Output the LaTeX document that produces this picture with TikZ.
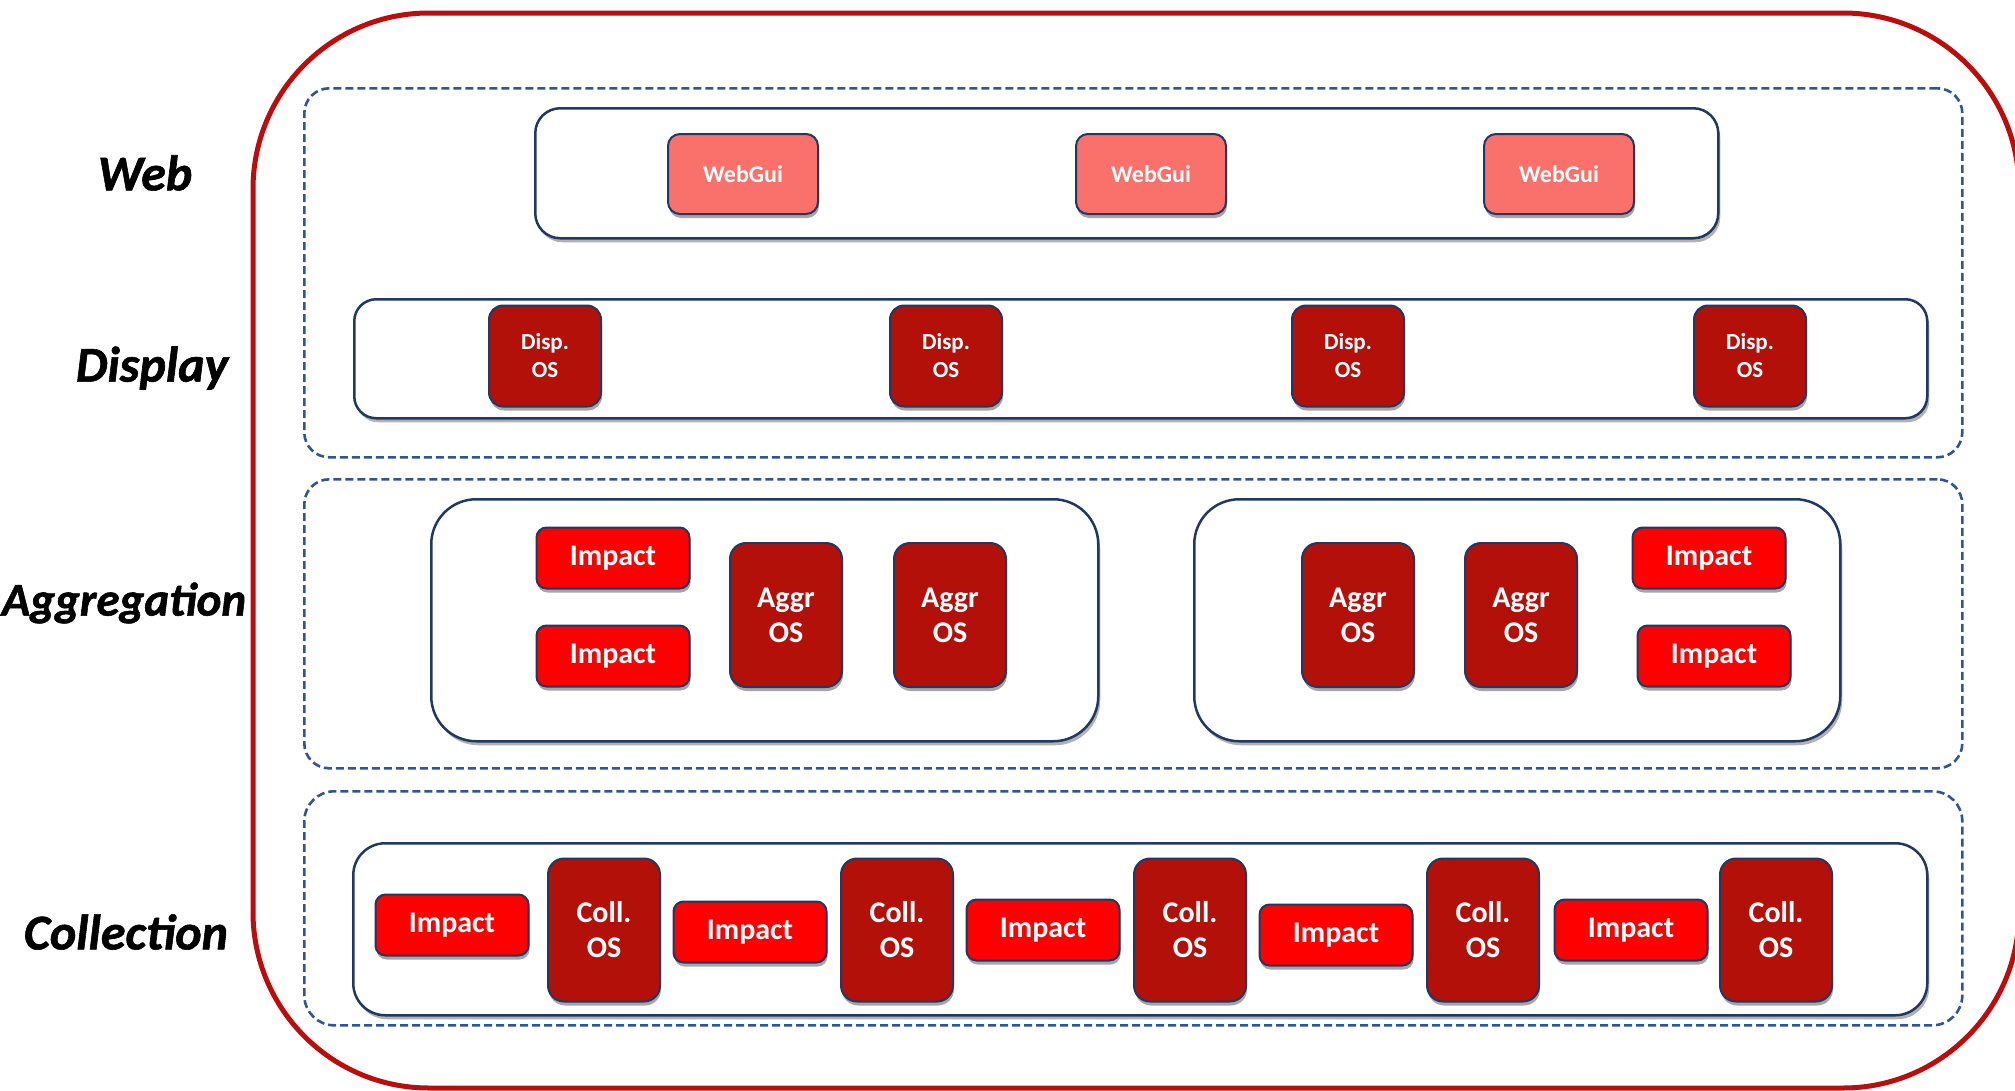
\documentclass[tikz,border=0pt]{standalone}
\usepackage{fontspec}
\setmainfont{Carlito}
\newfontfamily\lblfont[BoldItalicFeatures={FakeBold=1.2}]{Carlito}
\usetikzlibrary{shadows}
\definecolor{redbox}{RGB}{188,12,12}
\definecolor{dashblue}{RGB}{47,85,151}
\definecolor{navy}{RGB}{31,56,100}
\definecolor{salmon}{RGB}{250,112,106}
\definecolor{darkred}{RGB}{180,16,10}
\definecolor{brightred}{RGB}{255,0,0}
\tikzset{
  layerbox/.style={draw=dashblue, dash pattern=on 8pt off 4pt, line width=2.6pt, rounded corners=25pt, inner sep=0pt, anchor=north west},
  groupbox/.style={draw=navy, line width=2.5pt, fill=white, inner sep=0pt, anchor=north west,
    drop shadow={shadow xshift=2pt, shadow yshift=-4pt, fill=gray!60, opacity=1}},
  blockbase/.style={draw=navy, line width=2pt, text=white, inner sep=0pt, align=center,
    drop shadow={shadow xshift=1pt, shadow yshift=-4pt, fill=gray!70, opacity=1}},
  webgui/.style={blockbase, fill=salmon, minimum width=150pt, minimum height=80pt, rounded corners=12pt, font=\fontsize{24}{28}\selectfont\bfseries},
  disp/.style={blockbase, fill=darkred, minimum width=112pt, minimum height=101pt, rounded corners=14pt, font=\fontsize{23}{28}\selectfont\bfseries},
  impact/.style={blockbase, fill=brightred, minimum width=153pt, minimum height=61pt, rounded corners=10pt, font=\fontsize{30}{35}\selectfont\bfseries},
  osbox/.style={blockbase, fill=darkred, minimum width=112pt, minimum height=144pt, rounded corners=16pt, font=\fontsize{30}{35}\selectfont\bfseries},
  layerlabel/.style={font=\lblfont\fontsize{50}{56}\selectfont\bfseries\itshape, text=black, inner sep=0pt}
}
\begin{document}
\begin{tikzpicture}[x=1pt, y=-1pt]
\useasboundingbox (0,0) rectangle (2015,1090);
\clip (0,0) rectangle (2015,1090);
% outer red frame
\draw[redbox, line width=5pt, rounded corners=176pt] (253,13) rectangle (2019,1088);
% dashed layer boxes
\node[layerbox, minimum width=1658pt, minimum height=369pt] (lay1) at (303,87) {};
\node[layerbox, minimum width=1658pt, minimum height=289pt] (lay2) at (303,478) {};
\node[layerbox, rounded corners=30pt, minimum width=1658pt, minimum height=234pt] (lay3) at (303,790) {};
% group boxes
\node[groupbox, rounded corners=25pt, minimum width=1183pt, minimum height=130pt] (gweb) at (534,107) {};
\node[groupbox, rounded corners=22pt, minimum width=1573pt, minimum height=119pt] (gdisp) at (353,298) {};
\node[groupbox, rounded corners=45pt, minimum width=667pt, minimum height=242pt] (gaggl) at (430,498) {};
\node[groupbox, rounded corners=45pt, minimum width=646pt, minimum height=242pt] (gaggr) at (1193,498) {};
\node[groupbox, rounded corners=32pt, minimum width=1574pt, minimum height=172pt] (gcoll) at (352,842) {};
% labels
\node[layerlabel] (lweb) at (145,173) {Web};
\node[layerlabel] (ldisp) at (152,368) {Display};
\node[layerlabel, font=\lblfont\fontsize{47}{53}\selectfont\bfseries\itshape] (lagg) at (124,603) {Aggregation};
\node[layerlabel] (lcoll) at (126,932) {Collection};
% web
\node[webgui] (w1) at (743,174) {WebGui};
\node[webgui] (w2) at (1151,174) {WebGui};
\node[webgui] (w3) at (1559,174) {WebGui};
% display
\node[disp] (d1) at (545,356) {Disp.\\OS};
\node[disp] (d2) at (946,356) {Disp.\\OS};
\node[disp] (d3) at (1348,356) {Disp.\\OS};
\node[disp] (d4) at (1750,356) {Disp.\\OS};
% aggregation left
\node[impact] (ai1) at (613,558) {Impact};
\node[impact] (ai2) at (613,656) {Impact};
\node[osbox] (ao1) at (786,615) {Aggr\\OS};
\node[osbox] (ao2) at (950,615) {Aggr\\OS};
% aggregation right
\node[osbox] (ao3) at (1358,615) {Aggr\\OS};
\node[osbox] (ao4) at (1521,615) {Aggr\\OS};
\node[impact] (ai3) at (1709,558) {Impact};
\node[impact] (ai4) at (1714,656) {Impact};
% collection
\node[impact] (ci1) at (452,925) {Impact};
\node[osbox, minimum height=143pt] (co1) at (604,930) {Coll.\\OS};
\node[impact] (ci2) at (750,932) {Impact};
\node[osbox, minimum height=143pt] (co2) at (897,930) {Coll.\\OS};
\node[impact] (ci3) at (1043,930) {Impact};
\node[osbox, minimum height=143pt] (co3) at (1190,930) {Coll.\\OS};
\node[impact] (ci4) at (1336,935) {Impact};
\node[osbox, minimum height=143pt] (co4) at (1483,930) {Coll.\\OS};
\node[impact] (ci5) at (1631,930) {Impact};
\node[osbox, minimum height=143pt] (co5) at (1776,930) {Coll.\\OS};
\end{tikzpicture}
\end{document}
